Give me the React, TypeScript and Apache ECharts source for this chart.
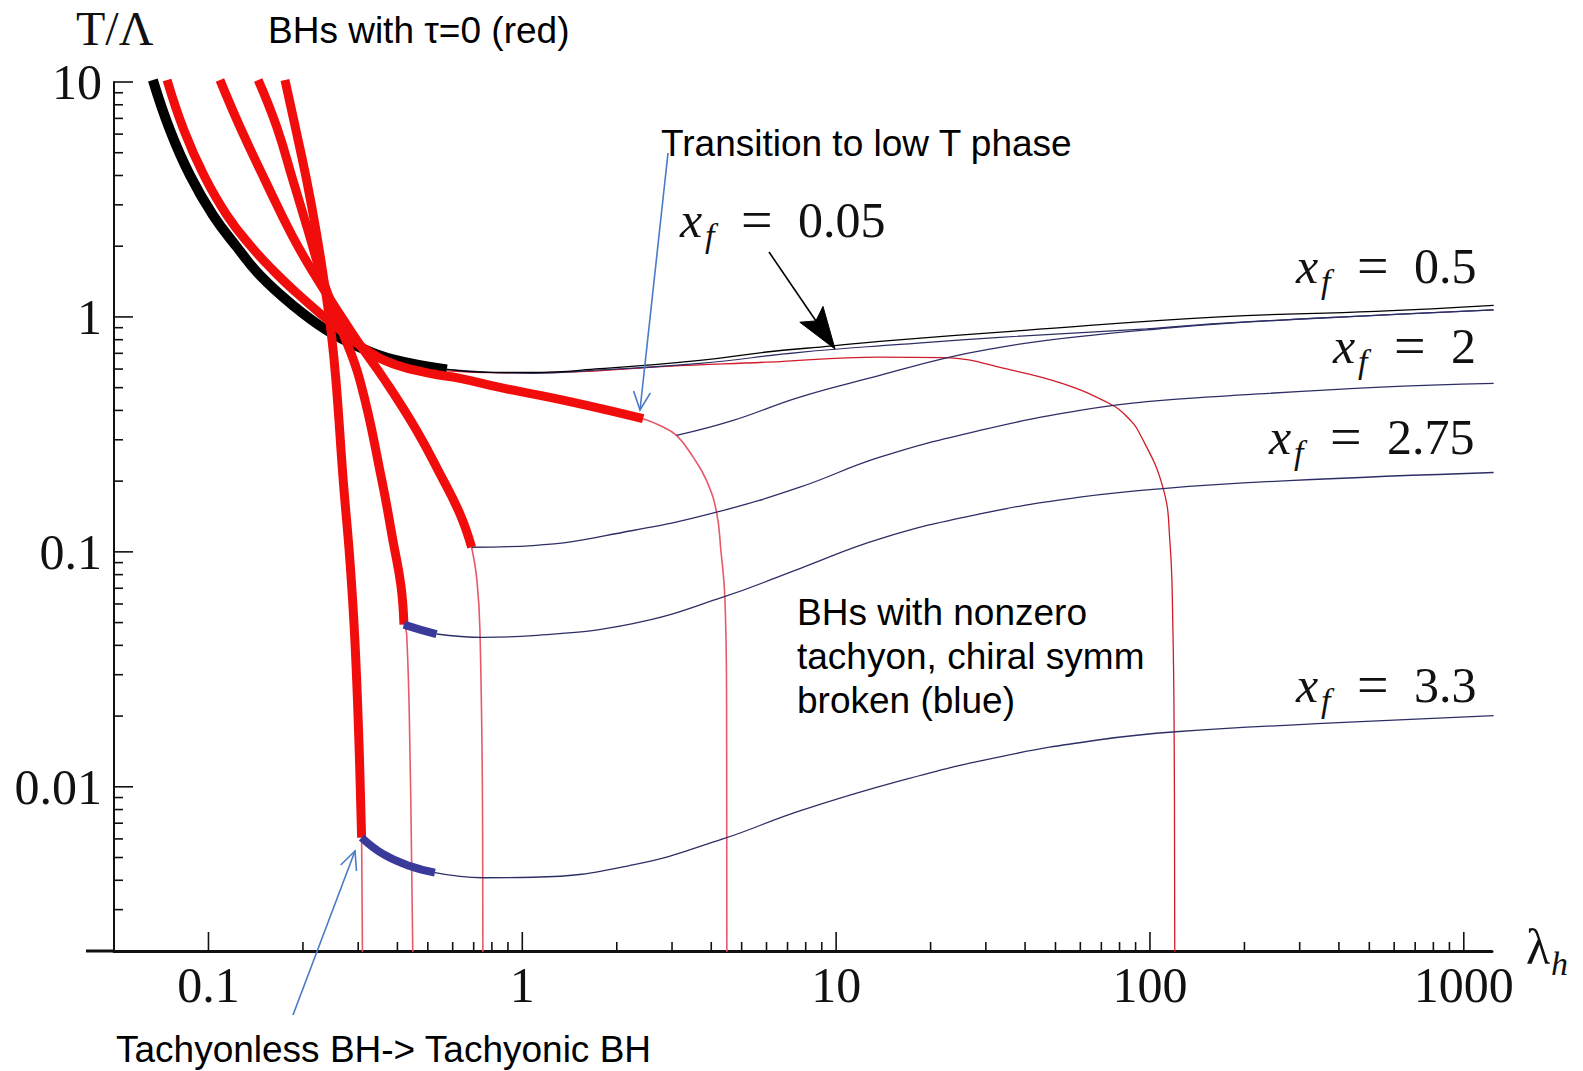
import React, { useEffect, useRef } from "react";
import * as echarts from "echarts";

const X_MIN = 0.05;
const X_MAX = 1230;
const Y_MIN = 0.002;
const Y_MAX = 10;

const xMajorTicks = [0.1, 1, 10, 100, 1000];
const xMajorLabels = ["0.1", "1", "10", "100", "1000"];
const xMinorTicks = [
  0.2, 0.3, 0.4, 0.5, 0.6, 0.7, 0.8, 0.9,
  2, 3, 4, 5, 6, 7, 8, 9,
  20, 30, 40, 50, 60, 70, 80, 90,
  200, 300, 400, 500, 600, 700, 800, 900,
];
const yMajorTicks = [10, 1, 0.1, 0.01];
const yMajorLabels = ["10", "1", "0.1", "0.01"];
const yMinorTicks = [
  0.003, 0.004, 0.005, 0.006, 0.007, 0.008, 0.009,
  0.02, 0.03, 0.04, 0.05, 0.06, 0.07, 0.08, 0.09,
  0.2, 0.3, 0.4, 0.5, 0.6, 0.7, 0.8, 0.9,
  2, 3, 4, 5, 6, 7, 8, 9,
];

type Pt = [number, number];

// x_f = 0.05 (black tachyonless branch, then thin black / blue / red)
const blackThick: Pt[] = [
  [0.0665, 10.2], [0.0754, 6.24], [0.0873, 4.01], [0.1034, 2.71], [0.1233, 1.98],
  [0.1459, 1.504], [0.1858, 1.12], [0.2384, 0.877], [0.3038, 0.742], [0.387, 0.66],
  [0.575, 0.598],
];
const blackThin: Pt[] = [
  [0.575, 0.598], [0.788, 0.581], [1.081, 0.581], [1.767, 0.602], [3.68, 0.653],
  [6.0, 0.709], [9.76, 0.753], [13.78, 0.787], [39.9, 0.877], [166.9, 1.0],
  [524, 1.056], [1245, 1.12],
];
const blueThin005: Pt[] = [
  [0.575, 0.598], [1.081, 0.575], [1.767, 0.595], [3.68, 0.634], [7.66, 0.707],
  [15.96, 0.764], [33.23, 0.819], [97.5, 0.89], [166.9, 0.939], [524, 1.016],
  [1245, 1.072],
];
const redThin005: Pt[] = [
  [0.575, 0.589], [0.848, 0.578], [1.384, 0.582], [2.88, 0.616], [6.0, 0.642],
  [13.78, 0.675], [21.88, 0.671], [36.55, 0.592], [52.75, 0.52], [74.5, 0.427],
  [84.3, 0.377], [92.8, 0.318], [109.9, 0.1885], [115.7, 0.1117], [118.2, 0.051],
  [119.5, 0.01423], [120, 0.0015],
];

// x_f = 0.5
const redThickA: Pt[] = [
  [0.0738, 10.2], [0.0835, 6.24], [0.0967, 4.01], [0.1145, 2.71], [0.1356, 2.02],
  [0.1605, 1.58], [0.19, 1.273], [0.2265, 1.036], [0.2762, 0.835], [0.327, 0.707],
  [0.3927, 0.628], [0.5077, 0.575], [0.633, 0.548], [0.848, 0.501], [1.224, 0.4544],
  [1.767, 0.408], [2.427, 0.3687],
];
const redThinA: Pt[] = [
  [2.427, 0.3687], [2.744, 0.345], [3.1, 0.313], [3.503, 0.253], [3.865, 0.201],
  [4.159, 0.1475], [4.293, 0.1013], [4.42, 0.0641], [4.476, 0.02325], [4.486, 0.0015],
];
const blueThinA: Pt[] = [
  [3.1, 0.313], [4.698, 0.3626], [7.66, 0.456], [13.78, 0.5637], [22.47, 0.6693],
  [33.23, 0.742], [46.8, 0.795], [69.2, 0.843], [97.5, 0.881], [166.9, 0.935],
  [524, 1.016], [1245, 1.072],
];

// x_f = 2
const redThickB: Pt[] = [
  [0.1088, 10.2], [0.126, 6.44], [0.1514, 3.82], [0.1845, 2.227], [0.2184, 1.504],
  [0.2548, 1.088], [0.3015, 0.772], [0.365, 0.537], [0.4605, 0.3287], [0.5464, 0.215],
  [0.633, 0.145], [0.6895, 0.1046],
];
const redThinB: Pt[] = [
  [0.6895, 0.1046], [0.717, 0.0754], [0.733, 0.0462], [0.747, 0.00767], [0.749, 0.0015],
];
const blueThinB: Pt[] = [
  [0.6895, 0.1046], [1.081, 0.1064], [2.25, 0.1233], [4.159, 0.1475], [7.66, 0.1885],
  [13.78, 0.253], [28.7, 0.3287], [59.76, 0.4], [99.9, 0.437], [166.9, 0.459],
  [524, 0.501], [1245, 0.5213],
];

// x_f = 2.75
const redThickC: Pt[] = [
  [0.144, 10.2], [0.165, 6.44], [0.1858, 3.82], [0.2075, 2.339], [0.2316, 1.432],
  [0.2624, 0.921], [0.3038, 0.537], [0.357, 0.201], [0.387, 0.1117], [0.4104, 0.0719],
  [0.4196, 0.049],
];
const blueThickC: Pt[] = [[0.4196, 0.049], [0.472, 0.0467], [0.533, 0.0447]];
const redThinC: Pt[] = [[0.4196, 0.049], [0.428, 0.0449], [0.4385, 0.01423], [0.449, 0.0015]];
const blueThinC: Pt[] = [
  [0.533, 0.0447], [0.7507, 0.04326], [1.081, 0.044], [2.25, 0.0495], [4.356, 0.0641],
  [7.66, 0.0849], [13.78, 0.1136], [28.7, 0.145], [59.76, 0.1709], [109.9, 0.186],
  [276.8, 0.201], [1245, 0.2177],
];

// x_f = 3.3
const redThickD: Pt[] = [
  [0.1753, 10.2], [0.19, 6.24], [0.2055, 3.82], [0.22, 2.339], [0.2333, 1.432],
  [0.2456, 0.877], [0.2548, 0.537], [0.2688, 0.201], [0.2823, 0.0918], [0.2928, 0.0419],
  [0.3015, 0.0157], [0.3076, 0.00608],
];
const blueThickD: Pt[] = [[0.3076, 0.00608], [0.3605, 0.00517], [0.4385, 0.0046], [0.5266, 0.00431]];
const redThinD: Pt[] = [[0.3076, 0.00608], [0.31, 0.0015]];
const blueThinD: Pt[] = [
  [0.5266, 0.00431], [0.749, 0.0041], [1.081, 0.00412], [2.25, 0.00465], [4.356, 0.006],
  [7.66, 0.0079], [15.96, 0.0106], [33.23, 0.01342], [69.2, 0.01586], [120.9, 0.01715],
  [399.5, 0.01874], [1245, 0.02007],
];

const RED = "#f20d0d";
const RED_THIN = "#e65a68";
const BLUE_THICK = "#3a3a9a";
const BLUE_THIN = "#2e2e66";
const ARROW_BLUE = "#4a7bc8";
const SERIF = '"Liberation Serif", "Times New Roman", serif';
const SANS = '"Liberation Sans", Arial, sans-serif';

const lineSeries = (name: string, data: Pt[], color: string, width: number, z: number) => ({
  type: "line",
  name,
  data,
  symbol: "none",
  showSymbol: false,
  smooth: 0.45,
  silent: true,
  clip: true,
  z,
  lineStyle: { color, width },
});

function xfLabel(L: number, baseline: number, num: string) {
  const mid = baseline - 17;
  return {
    type: "group",
    children: [
      { type: "text", x: L + 2, y: mid, style: { text: "x", fontFamily: SERIF, fontStyle: "italic", fontSize: 50, fill: "#111", align: "left", verticalAlign: "middle" } },
      { type: "text", x: L + 27, y: baseline - 2, style: { text: "f", fontFamily: SERIF, fontStyle: "italic", fontSize: 34, fill: "#111", align: "left", verticalAlign: "middle" } },
      { type: "text", x: L + 63, y: mid, style: { text: "=", fontFamily: SERIF, fontSize: 56, fill: "#111", align: "left", verticalAlign: "middle" } },
      { type: "text", x: L + 120, y: mid, style: { text: num, fontFamily: SERIF, fontSize: 50, fill: "#111", align: "left", verticalAlign: "middle" } },
    ],
  };
}

function buildOption() {
  const axisCommon = {
    type: "log",
    logBase: 10,
    axisTick: { show: false },
    axisLabel: { show: false },
    splitLine: { show: false },
    minorTick: { show: false },
    minorSplitLine: { show: false },
  };
  return {
    animation: false,
    backgroundColor: "#ffffff",
    grid: { left: 114, right: 91, top: 82, bottom: 120, containLabel: false, outerBoundsMode: "none" },
    xAxis: {
      ...axisCommon,
      min: X_MIN,
      max: X_MAX,
      axisLine: { show: true, onZero: false, lineStyle: { color: "#111", width: 3 } },
    },
    yAxis: {
      ...axisCommon,
      min: Y_MIN,
      max: Y_MAX,
      axisLine: { show: true, onZero: false, lineStyle: { color: "#111", width: 2 } },
    },
    series: [
      {
        type: "custom",
        silent: true,
        z: 1,
        encode: { x: 0, y: 1 },
        data: [
          ...xMajorTicks.map((v) => [v, Y_MIN, 1]),
          ...xMinorTicks.map((v) => [v, Y_MIN, 0]),
        ],
        renderItem: (params: any, api: any) => {
          const p = api.coord([api.value(0), api.value(1)]);
          const major = api.value(2) === 1;
          const children: any[] = [
            { type: "line", shape: { x1: p[0], y1: p[1], x2: p[0], y2: p[1] - (major ? 19 : 9) }, style: { stroke: "#111", lineWidth: 1.6 } },
          ];
          if (major) {
            children.push({
              type: "text",
              x: p[0],
              y: p[1] + 9,
              style: { text: xMajorLabels[params.dataIndex], fontFamily: SERIF, fontSize: 50, fill: "#111", align: "center", verticalAlign: "top" },
            });
          }
          return { type: "group", children };
        },
      },
      {
        type: "custom",
        silent: true,
        z: 1,
        encode: { x: 0, y: 1 },
        data: [
          ...yMajorTicks.map((v) => [X_MIN, v, 1]),
          ...yMinorTicks.map((v) => [X_MIN, v, 0]),
        ],
        renderItem: (params: any, api: any) => {
          const p = api.coord([api.value(0), api.value(1)]);
          const major = api.value(2) === 1;
          const children: any[] = [
            { type: "line", shape: { x1: p[0], y1: p[1], x2: p[0] + (major ? 19 : 9), y2: p[1] }, style: { stroke: "#111", lineWidth: 1.6 } },
          ];
          if (major) {
            children.push({
              type: "text",
              x: p[0] - 12,
              y: p[1],
              style: { text: yMajorLabels[params.dataIndex], fontFamily: SERIF, fontSize: 50, fill: "#111", align: "right", verticalAlign: "middle" },
            });
          }
          return { type: "group", children };
        },
      },
      lineSeries("red thin 0.05", redThin005, "#d01c2a", 1.3, 2),
      lineSeries("red thin 0.5", redThinA, RED_THIN, 1.6, 2),
      lineSeries("red thin 2", redThinB, RED_THIN, 1.6, 2),
      lineSeries("red thin 2.75", redThinC, RED_THIN, 1.6, 2),
      lineSeries("red thin 3.3", redThinD, RED_THIN, 1.6, 2),
      lineSeries("blue thin 0.05", blueThin005, BLUE_THIN, 1.2, 2),
      lineSeries("black thin 0.05", blackThin, "#000", 1.3, 2),
      lineSeries("blue thin 0.5", blueThinA, BLUE_THIN, 1.3, 2),
      lineSeries("blue thin 2", blueThinB, BLUE_THIN, 1.3, 2),
      lineSeries("blue thin 2.75", blueThinC, BLUE_THIN, 1.3, 2),
      lineSeries("blue thin 3.3", blueThinD, BLUE_THIN, 1.3, 2),
      lineSeries("black thick 0.05", blackThick, "#000", 10, 3),
      lineSeries("red thick 0.5", redThickA, RED, 9, 4),
      lineSeries("red thick 2", redThickB, RED, 9, 4),
      lineSeries("red thick 2.75", redThickC, RED, 9, 4),
      lineSeries("red thick 3.3", redThickD, RED, 9, 4),
      lineSeries("blue thick 2.75", blueThickC, BLUE_THICK, 8, 5),
      lineSeries("blue thick 3.3", blueThickD, BLUE_THICK, 8, 5),
    ],
    graphic: [
      { type: "line", z: 10, shape: { x1: 86, y1: 951, x2: 115, y2: 951 }, style: { stroke: "#111", lineWidth: 3 } },
      { type: "text", z: 10, x: 76, y: 28, style: { text: "T/Λ", fontFamily: SERIF, fontSize: 48, fill: "#111", align: "left", verticalAlign: "middle" } },
      { type: "text", z: 10, x: 1526, y: 947, style: { text: "λ", fontFamily: SERIF, fontSize: 50, fill: "#111", align: "left", verticalAlign: "middle" } },
      { type: "text", z: 10, x: 1551, y: 963, style: { text: "h", fontFamily: SERIF, fontStyle: "italic", fontSize: 34, fill: "#111", align: "left", verticalAlign: "middle" } },
      { ...xfLabel(678, 237, "0.05"), z: 10 },
      { ...xfLabel(1294, 283, "0.5"), z: 10 },
      { ...xfLabel(1331, 363, "2"), z: 10 },
      { ...xfLabel(1267, 454, "2.75"), z: 10 },
      { ...xfLabel(1294, 702, "3.3"), z: 10 },
      { type: "text", z: 10, x: 268, y: 30, style: { text: "BHs with τ=0 (red)", fontFamily: SANS, fontSize: 37, fill: "#000", align: "left", verticalAlign: "middle" } },
      { type: "text", z: 10, x: 661, y: 143, style: { text: "Transition to low T phase", fontFamily: SANS, fontSize: 37, fill: "#000", align: "left", verticalAlign: "middle" } },
      { type: "text", z: 10, x: 797, y: 656, style: { text: "BHs with nonzero\ntachyon, chiral symm\nbroken (blue)", fontFamily: SANS, fontSize: 37, lineHeight: 44, fill: "#000", align: "left", verticalAlign: "middle" } },
      { type: "text", z: 10, x: 116, y: 1049, style: { text: "Tachyonless BH-> Tachyonic BH", fontFamily: SANS, fontSize: 37, fill: "#000", align: "left", verticalAlign: "middle" } },
      { type: "line", z: 11, shape: { x1: 668, y1: 153, x2: 640, y2: 410 }, style: { stroke: ARROW_BLUE, lineWidth: 1.6 } },
      { type: "polyline", z: 11, shape: { points: [[633.6, 391.1], [640, 410], [650.4, 392.9]] }, style: { stroke: ARROW_BLUE, lineWidth: 1.6, fill: "none" } },
      { type: "line", z: 11, shape: { x1: 293, y1: 1015, x2: 355, y2: 851 }, style: { stroke: ARROW_BLUE, lineWidth: 1.6 } },
      { type: "polyline", z: 11, shape: { points: [[340.7, 865], [355, 851], [356.5, 871]] }, style: { stroke: ARROW_BLUE, lineWidth: 1.6, fill: "none" } },
      { type: "line", z: 11, shape: { x1: 769, y1: 252, x2: 816, y2: 321 }, style: { stroke: "#000", lineWidth: 1.6 } },
      { type: "polygon", z: 11, shape: { points: [[835, 349], [799.8, 322.2], [815.9, 320.9], [823, 306.4]] }, style: { fill: "#000", stroke: "#000", lineWidth: 1 } },
    ],
  };
}

export default function App() {
  const ref = useRef<HTMLDivElement>(null);
  useEffect(() => {
    if (!ref.current) return;
    const chart = echarts.init(ref.current, null, { renderer: "svg" });
    chart.setOption(buildOption() as any);
    return () => chart.dispose();
  }, []);
  return (
    <div
      ref={ref}
      style={{ position: "fixed", left: 0, top: 0, width: 1583, height: 1071, background: "#ffffff" }}
    />
  );
}
